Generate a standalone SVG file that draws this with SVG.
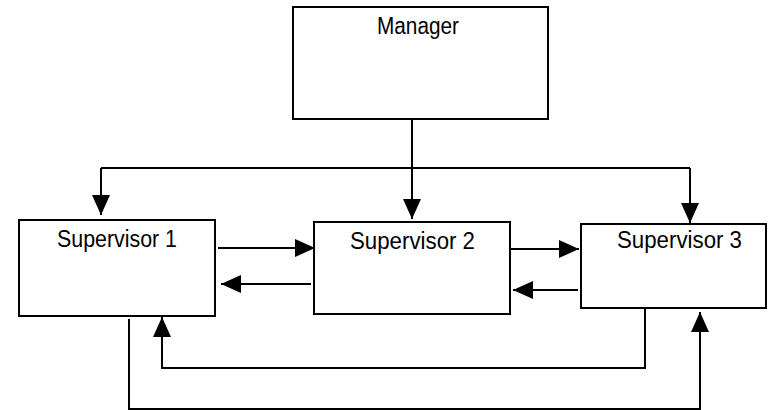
<svg xmlns="http://www.w3.org/2000/svg" width="768" height="410" viewBox="0 0 768 410">
<style>
.box{fill:#fff;stroke:#000;stroke-width:2}
.lbl{font-family:"Liberation Sans",Arial,sans-serif;font-size:23px;fill:#000}
.c{fill:none;stroke:#000;stroke-width:2}
</style>
<defs>
<marker id="ah" markerUnits="userSpaceOnUse" markerWidth="20" markerHeight="18" refX="20" refY="9" orient="auto">
<path d="M0,0 L20,9 L0,18 Z" fill="#000"/>
</marker>
</defs>
<rect width="768" height="410" fill="#fff"/>
<g id="manager">
<rect class="box" x="293" y="7" width="255" height="112"/>
<text class="lbl" x="377" y="34" textLength="82" lengthAdjust="spacingAndGlyphs">Manager</text>
</g>
<g id="supervisor1">
<rect class="box" x="19" y="220" width="196" height="96"/>
<text class="lbl" x="57" y="247" textLength="120" lengthAdjust="spacingAndGlyphs">Supervisor 1</text>
</g>
<g id="supervisor2">
<rect class="box" x="314" y="222" width="196" height="92"/>
<text class="lbl" x="350" y="249" textLength="125" lengthAdjust="spacingAndGlyphs">Supervisor 2</text>
</g>
<g id="supervisor3">
<rect class="box" x="581" y="224" width="185" height="84"/>
<text class="lbl" x="617" y="248" textLength="125" lengthAdjust="spacingAndGlyphs">Supervisor 3</text>
</g>
<g id="connectors">
<path class="c" d="M412,119 V219" marker-end="url(#ah)"/>
<path class="c" d="M101,168 H690"/>
<path class="c" d="M101,168 V215" marker-end="url(#ah)"/>
<path class="c" d="M690,168 V223" marker-end="url(#ah)"/>
<path class="c" d="M218,248 H315" marker-end="url(#ah)"/>
<path class="c" d="M311,284 H221" marker-end="url(#ah)"/>
<path class="c" d="M510,249 H579" marker-end="url(#ah)"/>
<path class="c" d="M578,290 H513" marker-end="url(#ah)"/>
<path class="c" d="M645,308 V368 H162 V317" marker-end="url(#ah)"/>
<path class="c" d="M129,319 V409 H700 V312" marker-end="url(#ah)"/>
</g>
</svg>
